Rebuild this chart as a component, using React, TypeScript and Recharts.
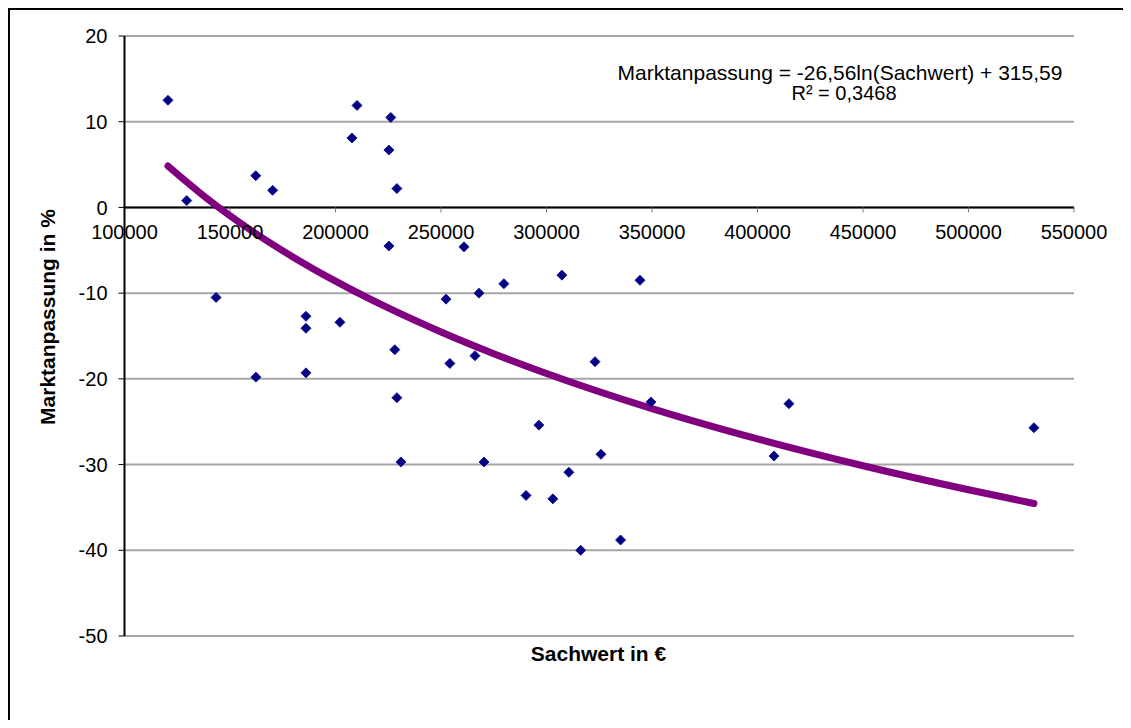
import { CartesianGrid, ComposedChart, Customized, Line, ReferenceLine, Scatter, XAxis, YAxis } from "recharts"

// Sachwert (x) and Marktanpassung (y) of the points
const sachwert = [
  120600, 129500, 143400, 162200, 162300, 170200, 186000, 186000, 186000, 202100,
  207800, 210200, 225300, 225300, 226200, 228100, 229100, 229100, 231000, 252400,
  254200, 260900, 266100, 268000, 270400, 279800, 290300, 296400, 303000, 307300,
  310600, 316200, 323000, 325800, 335100, 344300, 349500, 407800, 414900, 531000,
]
const marktanpassung = [
  12.5, 0.8, -10.5, 3.7, -19.8, 2.0, -12.7, -14.1, -19.3, -13.4,
  8.1, 11.9, -4.5, 6.7, 10.5, -16.6, 2.2, -22.2, -29.7, -10.7,
  -18.2, -4.6, -17.3, -10.0, -29.7, -8.9, -33.6, -25.4, -34.0, -7.9,
  -30.9, -40.0, -18.0, -28.8, -38.8, -8.5, -22.7, -29.0, -22.9, -25.7,
]

// logarithmic trend line (Excel), values along the drawn curve
const trendSachwert = [120600, 140000, 160000, 180000, 200000, 225000, 250000, 275000, 300000, 350000, 400000, 450000, 500000, 531000]
const trendWerte = [4.83, 0.87, -2.68, -5.8, -8.6, -11.73, -14.53, -17.06, -19.37, -23.47, -27.01, -30.14, -32.94, -34.54]

const xTicks = [100000, 150000, 200000, 250000, 300000, 350000, 400000, 450000, 500000, 550000]
const yTicks = [-50, -40, -30, -20, -10, 0, 10, 20]

const equation = "Marktanpassung = -26,56ln(Sachwert) + 315,59"
const rSquared = "R² = 0,3468"

const points = sachwert.map((x, i) => ({ x, y: marktanpassung[i] }))
const trend = trendSachwert.map((x, i) => ({ x, y: trendWerte[i] }))

const W = 1115
const H = 712
const PLOT_TOP = 28
const PLOT_H = 600
const Y_MIN = -50
const Y_MAX = 20
const X_MIN = 100000
const FONT = "'Liberation Sans', Arial, sans-serif"

const zeroY = PLOT_TOP + (Y_MAX / (Y_MAX - Y_MIN)) * PLOT_H

function XTick(props: any) {
  const { x, payload } = props
  return (
    <g>
      {payload.value !== X_MIN && (
        <line x1={x} x2={x} y1={zeroY} y2={zeroY + 5} stroke="#777" strokeWidth={1} />
      )}
      <text x={x} y={zeroY + 32} textAnchor="middle" fontSize={20} fill="#000" fontFamily={FONT}>
        {payload.value}
      </text>
    </g>
  )
}

function Diamond(props: any) {
  const { cx, cy } = props
  const r = 5
  return (
    <polygon
      points={`${cx},${cy - r} ${cx + r},${cy} ${cx},${cy + r} ${cx - r},${cy}`}
      fill="#000080"
      stroke="#1a1a9a"
      strokeWidth={1}
    />
  )
}

function Texts() {
  return (
    <g fontFamily={FONT} fill="#000">
      <text x={832} y={72} textAnchor="middle" fontSize={21}>
        {equation}
      </text>
      <text x={836} y={92} textAnchor="middle" fontSize={20}>
        {rSquared}
      </text>
      <text x={590.5} y={653} textAnchor="middle" fontSize={21} fontWeight="bold">
        Sachwert in €
      </text>
      <text
        x={40}
        y={309}
        textAnchor="middle"
        fontSize={21}
        fontWeight="bold"
        transform="rotate(-90 40 309)"
        dy="0.35em"
      >
        Marktanpassung in %
      </text>
    </g>
  )
}

export default function App() {
  return (
    <div style={{ position: "relative", width: W, height: H, fontFamily: FONT }}>
      <style>{"body{overflow:hidden}"}</style>
      <ComposedChart width={W} height={H} margin={{ top: PLOT_TOP, right: 49, bottom: 54, left: 56.5 }}>
        <CartesianGrid vertical={false} stroke="#a6a6a6" strokeWidth={2} />
        <XAxis
          type="number"
          dataKey="x"
          domain={[X_MIN, 550000]}
          ticks={xTicks}
          axisLine={false}
          tickLine={false}
          height={30}
          tick={<XTick />}
          interval={0}
        />
        <YAxis
          type="number"
          dataKey="y"
          domain={[Y_MIN, Y_MAX]}
          ticks={yTicks}
          width={60}
          axisLine={{ stroke: "#000", strokeWidth: 2 }}
          tickLine={{ stroke: "#000" }}
          tickSize={6}
          tickMargin={11}
          tick={{ fill: "#000", fontSize: 20, fontFamily: FONT }}
          interval={0}
        />
        <ReferenceLine y={0} stroke="#000" strokeWidth={2} />
        <Scatter data={points} shape={<Diamond />} isAnimationActive={false} />
        <Line
          data={trend}
          dataKey="y"
          type="monotone"
          stroke="#800080"
          strokeWidth={7}
          strokeLinecap="round"
          dot={false}
          activeDot={false}
          isAnimationActive={false}
        />
        <Customized component={Texts} />
      </ComposedChart>
      <div
        style={{
          position: "absolute",
          left: 0,
          top: 0,
          width: 1200,
          height: 800,
          borderTop: "2px solid #000",
          borderLeft: "2px solid #000",
          pointerEvents: "none",
        }}
      />
    </div>
  )
}
